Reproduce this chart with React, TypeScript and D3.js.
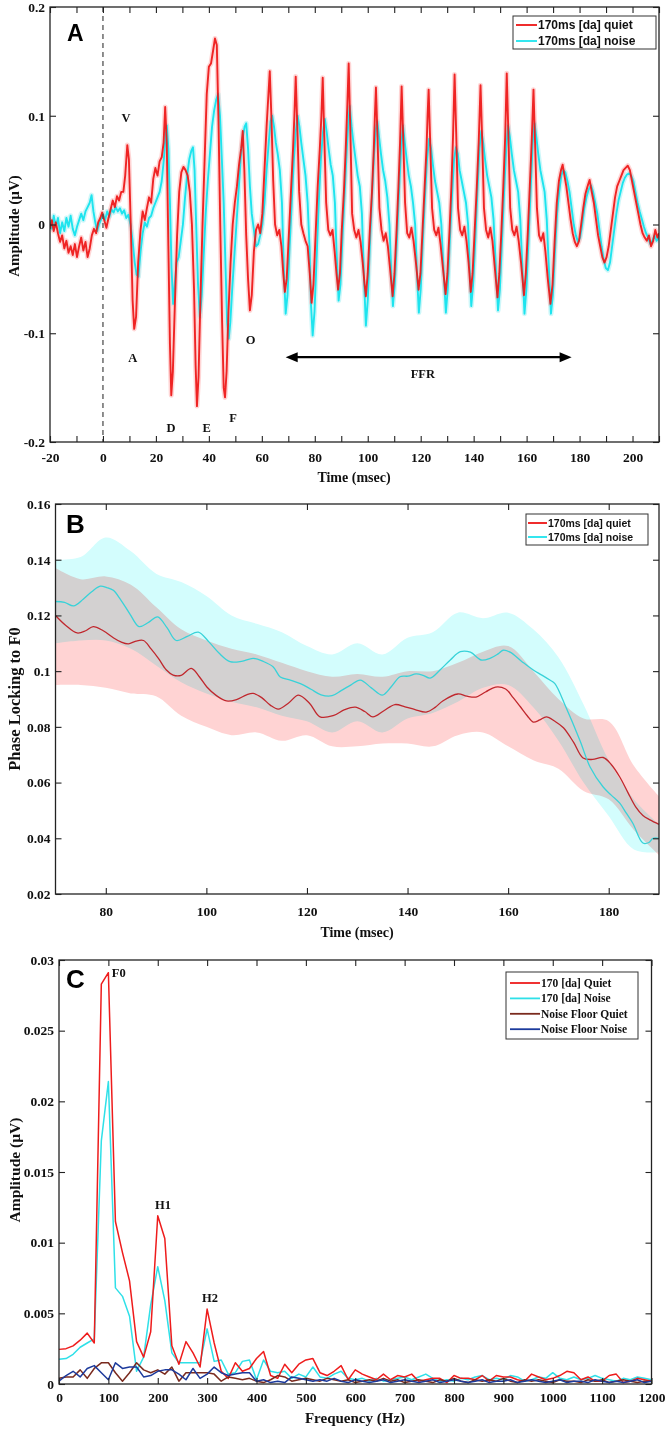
import React, { useEffect, useRef } from 'react';
import * as d3 from 'd3';

type Pt = [number, number];

// ---------- Panel A: grand-average waveforms (ms, µV) ----------
const quietWave: Pt[] = [
  [-20,-0.004],[-19.3,0.004],[-18.6,-0.006],[-17.8,0.002],[-17,-0.008],[-16.2,-0.016],[-15.4,-0.01],[-14.6,-0.022],[-13.8,-0.015],[-13,-0.026],
  [-12.2,-0.02],[-11.4,-0.028],[-10.6,-0.018],[-9.8,-0.03],[-9,-0.02],[-8.2,-0.012],[-7.4,-0.024],[-6.6,-0.016],[-5.8,-0.03],[-5,-0.022],
  [-4.2,-0.01],[-3.4,-0.004],[-2.6,-0.008],[-1.8,0.002],[-1,0.006],[-0.3,0.011],[0.5,0.004],[1.3,-0.003],[2.1,0.006],[2.9,0.014],
  [3.7,0.022],[4.5,0.016],[5.3,0.026],[6.1,0.022],[6.9,0.03],[7.7,0.03],[8.4,0.045],[9.2,0.073],[9.8,0.06],[10.5,0.0],
  [11.2,-0.07],[11.8,-0.096],[12.5,-0.085],[13.3,-0.035],[14.2,-0.005],[15,0.012],[15.8,0.004],[16.6,0.015],[17.4,0.025],[18.2,0.02],
  [19,0.042],[19.8,0.052],[20.6,0.045],[21.4,0.058],[22.2,0.062],[22.9,0.075],[23.5,0.108],[24.1,0.075],[24.7,-0.02],[25.3,-0.11],
  [25.8,-0.157],[26.4,-0.135],[27.2,-0.07],[28,-0.01],[28.8,0.03],[29.6,0.048],[30.4,0.053],[31.2,0.05],[32,0.045],[32.8,0.03],
  [33.6,0.0],[34.4,-0.06],[35,-0.13],[35.5,-0.167],[36.1,-0.14],[36.8,-0.07],[37.6,0.0],[38.4,0.06],[39.2,0.12],[40,0.145],
  [40.8,0.148],[41.6,0.16],[42.3,0.171],[43,0.165],[43.6,0.1],[44.3,0.0],[45,-0.09],[45.6,-0.15],[46.1,-0.159],[46.7,-0.135],
  [47.4,-0.08],[48.2,-0.035],[49,0.0],[49.8,0.02],[50.6,0.035],[51.4,0.055],[52.2,0.07],[52.8,0.086],[53.4,0.05],[54.1,-0.01],
  [54.8,-0.05],[55.5,-0.079],[56.2,-0.065],[57,-0.025],[57.8,-0.005],[58.6,0.0],[59.4,-0.008],[60.2,0.01],[61,0.05],[61.8,0.09],
  [62.5,0.12],[63,0.141],[63.6,0.1],[64.3,0.04],[65,0.0],[65.8,-0.01],[66.6,-0.005],[67.4,-0.02],[68.1,-0.045],[68.7,-0.062],
  [69.4,-0.05],[70.2,-0.01],[71,0.03],[71.8,0.07],[72.3,0.1],[72.8,0.136],[73.4,0.09],[74.1,0.03],[74.9,0.0],[75.7,-0.008],
  [76.5,-0.015],[77.3,-0.02],[78.1,-0.045],[78.8,-0.072],[79.5,-0.055],[80.3,-0.01],[81.1,0.035],[81.9,0.07],[82.5,0.1],[83,0.135],
  [83.6,0.08],[84.3,0.02],[85.1,-0.005],[85.9,-0.01],[86.7,-0.005],[87.5,-0.025],[88.2,-0.045],[88.8,-0.06],[89.5,-0.045],[90.2,-0.005],
  [91,0.03],[91.7,0.07],[92.3,0.11],[92.8,0.148],[93.4,0.09],[94.1,0.01],[94.9,-0.005],[95.7,-0.012],[96.5,-0.005],[97.3,-0.016],
  [98.1,-0.035],[98.8,-0.055],[99.3,-0.066],[100,-0.045],[100.8,-0.005],[101.6,0.03],[102.3,0.07],[102.7,0.1],[103.1,0.126],[103.7,0.08],
  [104.4,0.015],[105.2,-0.005],[106,-0.015],[106.8,-0.008],[107.6,-0.02],[108.4,-0.04],[109.4,-0.066],[110.1,-0.045],[110.9,-0.005],[111.6,0.035],
  [112.2,0.075],[112.8,0.127],[113.4,0.08],[114.1,0.02],[114.9,-0.008],[115.7,-0.012],[116.5,-0.003],[117.3,-0.015],[118.2,-0.035],[119.2,-0.06],
  [119.9,-0.045],[120.7,-0.005],[121.5,0.035],[122.2,0.07],[122.6,0.1],[123,0.124],[123.6,0.075],[124.3,0.015],[125.1,-0.005],[125.9,-0.01],
  [126.7,-0.003],[127.5,-0.018],[128.4,-0.04],[129.4,-0.064],[130.1,-0.045],[130.9,-0.005],[131.6,0.035],[132.2,0.08],[132.8,0.138],[133.4,0.085],
  [134.1,0.015],[134.9,-0.005],[135.7,-0.01],[136.5,-0.002],[137.3,-0.015],[138.1,-0.035],[138.9,-0.062],[139.6,-0.045],[140.4,-0.005],[141.2,0.035],
  [141.9,0.075],[142.6,0.128],[143.2,0.08],[143.9,0.015],[144.7,-0.005],[145.5,-0.012],[146.3,-0.003],[147.1,-0.015],[148,-0.04],[149,-0.067],
  [149.7,-0.045],[150.5,-0.005],[151.2,0.035],[151.9,0.08],[152.5,0.139],[153.1,0.085],[153.8,0.015],[154.6,-0.005],[155.4,-0.01],[156.2,-0.002],
  [157,-0.015],[157.9,-0.035],[159,-0.065],[159.7,-0.045],[160.5,-0.005],[161.2,0.035],[161.9,0.075],[162.6,0.124],[163.2,0.075],[163.9,0.015],
  [164.7,-0.01],[165.5,-0.015],[166.3,-0.008],[167.1,-0.025],[168,-0.05],[169,-0.073],[169.8,-0.055],[170.6,-0.015],[171.4,0.02],[172.2,0.04],
  [173,0.05],[173.6,0.055],[174.3,0.045],[175,0.035],[175.8,0.02],[176.6,0.005],[177.4,-0.008],[178.2,-0.016],[179,-0.02],[179.8,-0.015],
  [180.6,0.0],[181.4,0.015],[182.2,0.028],[183,0.035],[183.8,0.041],[184.6,0.03],[185.4,0.02],[186.2,0.005],[187,-0.01],[187.8,-0.02],
  [188.6,-0.03],[189.4,-0.035],[190.2,-0.03],[191,-0.02],[191.8,-0.005],[192.6,0.01],[193.4,0.025],[194.2,0.035],[195,0.04],[195.8,0.045],
  [196.6,0.05],[197.4,0.052],[198.2,0.054],[199,0.05],[199.8,0.04],[200.6,0.03],[201.4,0.02],[202.2,0.01],[203,0.0],[203.8,-0.008],
  [204.6,-0.012],[205.4,-0.015],[206.2,-0.01],[207,-0.02],[207.8,-0.015],[208.6,-0.005],[209.4,-0.012],[210,-0.008],
];

const noiseWave: Pt[] = [
  [-20,0.004],[-19.3,-0.004],[-18.6,0.008],[-17.8,-0.002],[-17,0.006],[-16.2,-0.008],[-15.4,0.002],[-14.6,-0.006],[-13.8,0.006],[-13,-0.002],
  [-12.2,0.008],[-11.4,-0.004],[-10.6,-0.01],[-9.8,-0.002],[-9,0.004],[-8.2,0.01],[-7.4,0.004],[-6.6,0.012],[-5.8,0.016],[-5,0.02],
  [-4.3,0.027],[-3.6,0.012],[-2.9,0.002],[-2.2,-0.006],[-1.5,0.0],[-0.8,0.004],[0,0.01],[0.8,0.004],[1.6,0.012],[2.4,0.007],
  [3.2,0.014],[4,0.011],[4.8,0.016],[5.6,0.012],[6.4,0.015],[7.2,0.01],[8,0.013],[8.8,0.006],[9.6,0.009],[10.4,0.0],
  [11.2,-0.015],[12,-0.035],[12.7,-0.046],[13.4,-0.048],[14.2,-0.025],[15,-0.008],[15.8,0.002],[16.6,-0.002],[17.4,0.006],[18.2,0.008],
  [19,0.015],[19.8,0.02],[20.6,0.025],[21.4,0.03],[22.2,0.04],[23,0.06],[23.6,0.08],[24.1,0.091],[24.7,0.07],[25.3,0.02],
  [25.9,-0.04],[26.5,-0.073],[27.1,-0.055],[27.8,-0.035],[28.6,-0.03],[29.4,-0.015],[30.2,0.0],[31,0.025],[31.8,0.045],[32.6,0.06],
  [33.4,0.068],[34,0.071],[34.6,0.05],[35.2,0.0],[35.9,-0.055],[36.6,-0.085],[37.3,-0.065],[38,-0.03],[38.8,0.01],[39.6,0.04],
  [40.4,0.065],[41.2,0.09],[42,0.105],[42.8,0.115],[43.5,0.12],[44.2,0.1],[44.9,0.06],[45.6,0.02],[46.3,-0.04],[46.9,-0.09],
  [47.5,-0.105],[48.1,-0.09],[48.8,-0.06],[49.6,-0.03],[50.4,0.0],[51.2,0.03],[52,0.06],[52.8,0.08],[53.5,0.09],[54.1,0.093],
  [54.8,0.07],[55.5,0.035],[56.2,0.01],[57,-0.005],[57.8,-0.02],[58.6,-0.018],[59.4,-0.01],[60.2,0.0],[61,0.02],[61.8,0.05],
  [62.6,0.075],[63.3,0.095],[63.9,0.1],[64.6,0.09],[65.3,0.075],[66,0.065],[66.8,0.05],[67.6,0.02],[68.3,-0.04],[69,-0.082],
  [69.7,-0.065],[70.5,-0.02],[71.3,0.02],[72.1,0.06],[72.8,0.085],[73.5,0.1],[74.2,0.09],[74.9,0.075],[75.7,0.06],[76.5,0.045],
  [77.3,0.02],[78,-0.02],[78.6,-0.075],[79.2,-0.102],[79.9,-0.08],[80.7,-0.03],[81.5,0.02],[82.3,0.06],[83.1,0.085],[83.8,0.097],
  [84.5,0.085],[85.2,0.07],[86,0.055],[86.8,0.045],[87.6,0.02],[88.3,-0.03],[89,-0.07],[89.7,-0.055],[90.5,-0.01],[91.3,0.03],
  [92.1,0.07],[92.7,0.095],[93.2,0.109],[93.9,0.09],[94.6,0.075],[95.4,0.06],[96.2,0.045],[97,0.035],[97.8,0.01],[98.6,-0.05],
  [99.3,-0.093],[100,-0.07],[100.8,-0.02],[101.6,0.025],[102.4,0.065],[103.1,0.088],[103.6,0.095],[104.3,0.08],[105,0.065],[105.8,0.05],
  [106.6,0.04],[107.4,0.025],[108.2,0.0],[108.9,-0.045],[109.5,-0.075],[110.2,-0.055],[111,-0.015],[111.8,0.03],[112.6,0.07],[113.3,0.091],
  [114,0.075],[114.7,0.06],[115.5,0.045],[116.3,0.035],[117.1,0.02],[117.9,0.0],[118.6,-0.045],[119.3,-0.081],[120,-0.06],[120.8,-0.015],
  [121.6,0.025],[122.4,0.06],[123.2,0.079],[123.9,0.07],[124.6,0.055],[125.4,0.04],[126.2,0.03],[127,0.02],[127.8,0.0],[128.7,-0.045],
  [129.5,-0.081],[130.2,-0.06],[131,-0.015],[131.8,0.025],[132.6,0.06],[133.3,0.071],[134,0.065],[134.7,0.05],[135.5,0.04],[136.3,0.03],
  [137.1,0.02],[137.9,0.0],[138.5,-0.04],[139.1,-0.075],[139.8,-0.055],[140.6,-0.015],[141.4,0.03],[142.2,0.07],[142.9,0.086],[143.6,0.075],
  [144.3,0.06],[145.1,0.045],[145.9,0.035],[146.7,0.025],[147.5,0.005],[148.4,-0.04],[149.2,-0.079],[149.9,-0.06],[150.7,-0.015],[151.5,0.03],
  [152.3,0.07],[153,0.091],[153.7,0.08],[154.4,0.065],[155.2,0.05],[156,0.04],[156.8,0.03],[157.6,0.005],[158.5,-0.045],[159.2,-0.082],
  [159.9,-0.06],[160.7,-0.015],[161.5,0.03],[162.3,0.075],[163,0.093],[163.7,0.08],[164.4,0.065],[165.2,0.05],[166,0.04],[166.8,0.03],
  [167.6,0.005],[168.5,-0.045],[169.2,-0.082],[169.9,-0.065],[170.7,-0.025],[171.5,0.01],[172.3,0.03],[173.1,0.045],[173.9,0.05],[174.6,0.048],
  [175.4,0.04],[176.2,0.03],[177,0.015],[177.8,0.0],[178.6,-0.01],[179.4,-0.016],[180.2,-0.012],[181,0.0],[181.8,0.015],[182.6,0.025],
  [183.4,0.032],[184.3,0.036],[185.1,0.03],[185.9,0.02],[186.7,0.01],[187.5,-0.005],[188.3,-0.02],[189.1,-0.032],[189.9,-0.04],[190.7,-0.042],
  [191.5,-0.035],[192.3,-0.02],[193.1,-0.005],[193.9,0.01],[194.7,0.022],[195.5,0.03],[196.3,0.038],[197.1,0.043],[197.9,0.046],[198.7,0.047],
  [199.5,0.045],[200.3,0.04],[201.1,0.03],[201.9,0.02],[202.7,0.012],[203.5,0.005],[204.3,-0.002],[205.1,-0.008],[205.9,-0.012],[206.7,-0.018],
  [207.5,-0.015],[208.3,-0.01],[209.1,-0.015],[210,-0.012],
];

const peakLabels = [
  { text: 'V', t: 8.7, v: 0.094 },
  { text: 'A', t: 11.3, v: -0.126 },
  { text: 'D', t: 25.7, v: -0.191 },
  { text: 'E', t: 39.2, v: -0.191 },
  { text: 'F', t: 49.1, v: -0.182 },
  { text: 'O', t: 55.8, v: -0.1095 },
];
const ffrSpan = { from: 69, to: 177, v: -0.122, labelT: 120.8, labelV: -0.141 };

const timeTicksA = d3.range(-20, 211, 10);
const timeLabelsA = d3.range(-20, 201, 20);
const ampTicksA = [-0.2, -0.1, 0, 0.1, 0.2];

// ---------- Panel B: phase locking to F0 ----------
const plvQuiet: Pt[] = [
  [70,0.12],[72,0.1165],[74.3,0.1137],[76,0.1145],[77.5,0.116],[79.5,0.1145],[81.5,0.112],[83,0.1105],[84.5,0.1098],[86,0.1108],
  [87.5,0.111],[89,0.108],[90.5,0.1045],[92,0.1005],[93.4,0.0986],[95,0.0985],[97,0.101],[98.6,0.098],[100.1,0.0943],[102,0.0912],
  [104,0.0893],[106,0.0898],[108,0.0915],[109.3,0.092],[111,0.0905],[112.7,0.0878],[114.3,0.0864],[116.3,0.0885],[118.3,0.0914],[120.5,0.0885],
  [122.6,0.0836],[125.2,0.084],[127.5,0.0862],[129.6,0.0871],[131.5,0.0855],[133.1,0.0836],[135.3,0.0858],[137.5,0.088],[139.5,0.0872],[141.5,0.0862],
  [143.7,0.0853],[145.5,0.087],[147,0.0893],[150,0.0918],[151.8,0.091],[153.6,0.0907],[155.5,0.0925],[157.5,0.0943],[159.5,0.0936],[161,0.0905],
  [162.4,0.0873],[163.8,0.084],[165,0.0817],[166.3,0.0825],[167.6,0.0836],[169.3,0.082],[171,0.0797],[173,0.0745],[174.9,0.0688],[176.8,0.0683],
  [178.9,0.069],[180.5,0.0665],[182.2,0.062],[183.8,0.0565],[185.4,0.0512],[186.8,0.0482],[188.2,0.0466],[190,0.045],
];
const plvNoise: Pt[] = [
  [70,0.125],[71.8,0.1247],[73.6,0.1234],[75.5,0.1258],[77.2,0.1285],[78.9,0.1305],[80.2,0.13],[81.5,0.129],[83,0.1255],[84.8,0.1205],
  [86.6,0.116],[88.5,0.1175],[90.3,0.1195],[92.2,0.1155],[94,0.111],[96.2,0.1125],[98.4,0.114],[100.5,0.1105],[102.5,0.1065],[104.7,0.1034],
  [107,0.1035],[109.3,0.1046],[111.3,0.1035],[113.3,0.1015],[114.7,0.0979],[116.7,0.0968],[118.7,0.0955],[120.8,0.0935],[122.8,0.0915],[125,0.0912],
  [126.8,0.093],[128.7,0.095],[130.6,0.0968],[132.8,0.094],[135,0.0914],[136.8,0.0945],[138.5,0.098],[140.1,0.0982],[141.7,0.099],[143.1,0.0985],
  [144.5,0.0975],[146.5,0.1005],[148.5,0.104],[150.5,0.107],[152.5,0.1068],[154.6,0.104],[156.4,0.1046],[158,0.1062],[159,0.1075],[160.4,0.1068],
  [162.7,0.1035],[165,0.1004],[166.8,0.0985],[168.3,0.0968],[169.3,0.0955],[171.5,0.087],[174.3,0.075],[176.3,0.0656],[178.9,0.0584],[180.5,0.0555],
  [182.2,0.0526],[183.5,0.049],[184.8,0.0454],[186.8,0.0383],[188,0.0385],[188.8,0.04],[190,0.04],
];
const bandTimes = [70, 75, 80, 85, 90, 95, 100, 105, 110, 115, 120, 125, 130, 135, 140, 145, 150, 155, 160, 165, 170, 175, 180, 185, 190];
const quietLow  = [0.095, 0.095, 0.094, 0.092, 0.091, 0.084, 0.080, 0.077, 0.078, 0.075, 0.077, 0.073, 0.073, 0.074, 0.074, 0.073, 0.077, 0.078, 0.073, 0.068, 0.065, 0.057, 0.054, 0.043, 0.034];
const quietHigh = [0.137, 0.133, 0.134, 0.131, 0.123, 0.115, 0.111, 0.108, 0.106, 0.103, 0.100, 0.098, 0.099, 0.098, 0.100, 0.100, 0.103, 0.107, 0.109, 0.100, 0.090, 0.083, 0.082, 0.066, 0.055];
const noiseLow  = [0.110, 0.111, 0.111, 0.108, 0.102, 0.096, 0.092, 0.089, 0.087, 0.084, 0.082, 0.078, 0.082, 0.078, 0.083, 0.085, 0.089, 0.094, 0.095, 0.087, 0.075, 0.060, 0.048, 0.036, 0.035];
const noiseHigh = [0.140, 0.141, 0.148, 0.143, 0.135, 0.132, 0.127, 0.120, 0.117, 0.114, 0.109, 0.106, 0.110, 0.106, 0.112, 0.114, 0.121, 0.119, 0.121, 0.115, 0.105, 0.088, 0.068, 0.054, 0.045];

const timeTicksB = [80, 100, 120, 140, 160, 180];
const plvTicksB = [0.02, 0.04, 0.06, 0.08, 0.1, 0.12, 0.14, 0.16];

// ---------- Panel C: spectra, one value per FFT bin ----------
const binHz = 100 / 7;
const specQuiet = [
  0.00245, 0.0025, 0.0027, 0.0031, 0.0036, 0.0029, 0.0283, 0.0291, 0.0115, 0.0093,
  0.0073, 0.0030, 0.0019, 0.0037, 0.0119, 0.0103, 0.0027, 0.0014, 0.0030, 0.0022,
  0.0012, 0.0053, 0.0029, 0.0009, 0.0004, 0.0015, 0.0009, 0.0011, 0.0018, 0.0023,
  0.0006, 0.0004, 0.0014, 0.0008, 0.0014, 0.0017, 0.0018, 0.0008, 0.0006, 0.0009,
  0.0013, 0.0003, 0.0010, 0.0007, 0.0005, 0.0003, 0.0007, 0.0003, 0.0006, 0.0005,
  0.0007, 0.0002, 0.0003, 0.0004, 0.0004, 0.0001, 0.0006, 0.0004, 0.0004, 0.0003,
  0.0006, 0.0002, 0.0006, 0.0005, 0.0005, 0.0003, 0.0002, 0.0007, 0.0005, 0.0003,
  0.0004, 0.0006, 0.0009, 0.0008, 0.0003, 0.0005, 0.0002, 0.0002, 0.0006, 0.0007,
  0.0001, 0.0002, 0.0004, 0.0003, 0.0002,
];
const specNoise = [
  0.00175, 0.0018, 0.0021, 0.0026, 0.0029, 0.0032, 0.0172, 0.0214, 0.0068, 0.0062,
  0.0048, 0.0009, 0.0019, 0.0056, 0.0083, 0.0059, 0.0022, 0.0015, 0.0015, 0.0015,
  0.0015, 0.0039, 0.0016, 0.0017, 0.0007, 0.0008, 0.0016, 0.0017, 0.0003, 0.0017,
  0.0009, 0.0008, 0.0009, 0.0004, 0.0007, 0.0005, 0.0012, 0.0005, 0.0004, 0.0007,
  0.0009, 0.0004, 0.0003, 0.0004, 0.0002, 0.0004, 0.0002, 0.0003, 0.0004, 0.0005,
  0.0003, 0.0005, 0.0007, 0.0004, 0.0002, 0.0003, 0.0002, 0.0004, 0.0003, 0.0005,
  0.0006, 0.0003, 0.0004, 0.0003, 0.0006, 0.0005, 0.0002, 0.0003, 0.0005, 0.0004,
  0.0008, 0.0004, 0.0003, 0.0005, 0.0003, 0.0004, 0.0006, 0.0004, 0.0003, 0.0002,
  0.0004, 0.0003, 0.0005, 0.0004, 0.0003,
];
const floorQuiet = [
  0.0004, 0.0005, 0.0005, 0.0010, 0.0004, 0.0011, 0.0015, 0.0015, 0.0008, 0.0002,
  0.0008, 0.0015, 0.0010, 0.0008, 0.0010, 0.0007, 0.0012, 0.0002, 0.0008, 0.0008,
  0.0008, 0.0008, 0.0007, 0.0002, 0.0005, 0.0004, 0.0003, 0.0004, 0.0002, 0.0001,
  0.0003, 0.0006, 0.0005, 0.0002, 0.0003, 0.0004, 0.0003, 0.0002, 0.0004, 0.0003,
  0.0002, 0.0003, 0.0001, 0.0002, 0.0003, 0.0002, 0.0004, 0.0002, 0.0003, 0.0001,
  0.0002, 0.0003, 0.0002, 0.0001, 0.0003, 0.0002, 0.0004, 0.0002, 0.0001, 0.0003,
  0.0002, 0.0003, 0.0002, 0.0004, 0.0002, 0.0001, 0.0003, 0.0002, 0.0003, 0.0002,
  0.0001, 0.0003, 0.0002, 0.0002, 0.0001, 0.0003, 0.0002, 0.0003, 0.0001, 0.0002,
  0.0003, 0.0002, 0.0001, 0.0002, 0.0002,
];
const floorNoise = [
  0.0002, 0.0006, 0.0009, 0.0005, 0.0011, 0.0013, 0.0008, 0.0003, 0.0015, 0.0011,
  0.0012, 0.0012, 0.0005, 0.0006, 0.0009, 0.0010, 0.0010, 0.0007, 0.0003, 0.0011,
  0.0004, 0.0007, 0.0012, 0.0008, 0.0006, 0.0007, 0.0008, 0.0008, 0.0002, 0.0003,
  0.0001, 0.0002, 0.0001, 0.0005, 0.0004, 0.0003, 0.0002, 0.0003, 0.0002, 0.0004,
  0.0002, 0.0001, 0.0003, 0.0002, 0.0001, 0.0002, 0.0003, 0.0001, 0.0002, 0.0003,
  0.0002, 0.0001, 0.0002, 0.0003, 0.0001, 0.0002, 0.0003, 0.0002, 0.0001, 0.0002,
  0.0003, 0.0001, 0.0002, 0.0002, 0.0003, 0.0001, 0.0002, 0.0003, 0.0002, 0.0001,
  0.0002, 0.0003, 0.0001, 0.0002, 0.0002, 0.0001, 0.0003, 0.0002, 0.0001, 0.0002,
  0.0001, 0.0002, 0.0003, 0.0001, 0.0002,
];
const harmonicLabels = [
  { text: 'F0', f: 107, v: 0.0288, anchor: 'start' },
  { text: 'H1', f: 210.5, v: 0.01238, anchor: 'middle' },
  { text: 'H2', f: 305.7, v: 0.0058, anchor: 'middle' },
];
const freqTicksC = d3.range(0, 1201, 100);
const ampTicksC = [0, 0.005, 0.01, 0.015, 0.02, 0.025, 0.03];

const SERIF = '"Liberation Serif", "Times New Roman", serif';
const SANS = '"Liberation Sans", Arial, sans-serif';
const fmt = (d: number) => String(parseFloat((+d).toFixed(4)));

type Sel = d3.Selection<SVGGElement, unknown, null, undefined>;

function drawFrame(
  g: Sel,
  x: d3.ScaleLinear<number, number>,
  y: d3.ScaleLinear<number, number>,
  xTicks: number[],
  xLabels: number[],
  yTicks: number[],
  xPad: number,
) {
  const [x0, x1] = x.range();
  const [y0, y1] = y.range();
  const styleAxis = (a: Sel) => {
    a.select('.domain').remove();
    a.selectAll('line').attr('stroke', '#222').attr('stroke-width', 1.1);
    a.selectAll('text')
      .attr('fill', '#111')
      .style('font-family', SERIF)
      .style('font-size', '13.5px')
      .style('font-weight', 'bold');
  };
  const labelSet = new Set(xLabels);
  g.append('g').attr('transform', `translate(0,${y0})`)
    .call(d3.axisBottom(x).tickValues(xTicks).tickSizeInner(-6).tickSizeOuter(0).tickPadding(xPad)
      .tickFormat(d => (labelSet.has(+d) ? fmt(+d) : '')))
    .call(styleAxis);
  g.append('g').attr('transform', `translate(0,${y1})`)
    .call(d3.axisTop(x).tickValues(xTicks).tickSizeInner(-6).tickSizeOuter(0).tickFormat(() => ''))
    .call(styleAxis);
  g.append('g').attr('transform', `translate(${x0},0)`)
    .call(d3.axisLeft(y).tickValues(yTicks).tickSizeInner(-6).tickSizeOuter(0).tickPadding(5).tickFormat(d => fmt(+d)))
    .call(styleAxis);
  g.append('g').attr('transform', `translate(${x1},0)`)
    .call(d3.axisRight(y).tickValues(yTicks).tickSizeInner(-6).tickSizeOuter(0).tickFormat(() => ''))
    .call(styleAxis);
  g.append('rect')
    .attr('x', x0).attr('y', y1).attr('width', x1 - x0).attr('height', y0 - y1)
    .attr('fill', 'none').attr('stroke', '#222').attr('stroke-width', 1.3);
}

function axisTitles(
  g: Sel,
  xTitle: string, xPos: [number, number], xSize: number,
  yTitle: string, yPos: [number, number], ySize: number,
) {
  g.append('text').attr('x', xPos[0]).attr('y', xPos[1]).attr('text-anchor', 'middle')
    .style('font-family', SERIF).style('font-size', `${xSize}px`).style('font-weight', 'bold').attr('fill', '#111')
    .text(xTitle);
  g.append('text').attr('transform', `translate(${yPos[0]},${yPos[1]}) rotate(-90)`).attr('text-anchor', 'middle')
    .style('font-family', SERIF).style('font-size', `${ySize}px`).style('font-weight', 'bold').attr('fill', '#111')
    .text(yTitle);
}

function panelLetter(g: Sel, letter: string, px: number, py: number, size: number) {
  g.append('text').attr('x', px).attr('y', py)
    .style('font-family', SANS).style('font-size', `${size}px`).style('font-weight', 'bold').attr('fill', '#000')
    .text(letter);
}

function legend(
  g: Sel,
  box: { x: number; y: number; w: number; h: number },
  items: { label: string; color: string }[],
  opts: { font: string; size: number; rowH: number; firstRow: number; lineLen: number; pad: number },
) {
  const lg = g.append('g');
  lg.append('rect').attr('x', box.x).attr('y', box.y).attr('width', box.w).attr('height', box.h)
    .attr('fill', '#fff').attr('stroke', '#333').attr('stroke-width', 1);
  items.forEach((it, i) => {
    const cy = box.y + opts.firstRow + i * opts.rowH;
    lg.append('line').attr('x1', box.x + opts.pad).attr('x2', box.x + opts.pad + opts.lineLen)
      .attr('y1', cy).attr('y2', cy).attr('stroke', it.color).attr('stroke-width', 1.8);
    lg.append('text').attr('x', box.x + opts.pad + opts.lineLen + 1).attr('y', cy).attr('dy', '0.35em')
      .style('font-family', opts.font).style('font-size', `${opts.size}px`).style('font-weight', 'bold')
      .attr('fill', '#111').text(it.label);
  });
}

export default function App() {
  const ref = useRef<SVGSVGElement>(null);

  useEffect(() => {
    if (!ref.current) return;
    const svg = d3.select(ref.current);
    svg.selectAll('*').remove();
    svg.append('rect').attr('width', 666).attr('height', 1429).attr('fill', '#fff');
    const root = svg.append('g') as unknown as Sel;

    // ---------------- Panel A ----------------
    const xA = d3.scaleLinear().domain([-20, 210]).range([50, 659]);
    const yA = d3.scaleLinear().domain([-0.2, 0.2]).range([442, 7]);
    const gA = root.append('g') as unknown as Sel;
    gA.append('clipPath').attr('id', 'clipA').append('rect')
      .attr('x', 50).attr('y', 7).attr('width', 609).attr('height', 435);
    const lineA = d3.line<Pt>().x(d => xA(d[0])).y(d => yA(d[1]));
    const plotA = gA.append('g').attr('clip-path', 'url(#clipA)');
    // shaded SEM, drawn as a soft halo around each trace
    plotA.append('path').datum(noiseWave).attr('d', lineA).attr('fill', 'none')
      .attr('stroke', '#b8f4f6').attr('stroke-width', 5).attr('stroke-linejoin', 'round').attr('opacity', 0.7);
    plotA.append('path').datum(quietWave).attr('d', lineA).attr('fill', 'none')
      .attr('stroke', '#ffb9b9').attr('stroke-width', 5).attr('stroke-linejoin', 'round').attr('opacity', 0.6);
    plotA.append('path').datum(noiseWave).attr('d', lineA).attr('fill', 'none')
      .attr('stroke', '#1ee4ee').attr('stroke-width', 1.9).attr('stroke-linejoin', 'round');
    plotA.append('path').datum(quietWave).attr('d', lineA).attr('fill', 'none')
      .attr('stroke', '#ee1515').attr('stroke-width', 1.9).attr('stroke-linejoin', 'round').attr('opacity', 0.92);
    // stimulus onset
    gA.append('line').attr('x1', xA(0)).attr('x2', xA(0)).attr('y1', yA(0.2)).attr('y2', yA(-0.2))
      .attr('stroke', '#444').attr('stroke-width', 1.2).attr('stroke-dasharray', '5,4');
    // peak labels
    gA.selectAll('text.pk').data(peakLabels).join('text').attr('class', 'pk')
      .attr('x', d => xA(d.t)).attr('y', d => yA(d.v)).attr('text-anchor', 'middle')
      .style('font-family', SERIF).style('font-size', '12.5px').style('font-weight', 'bold').attr('fill', '#111')
      .text(d => d.text);
    // FFR double arrow
    const ay = yA(ffrSpan.v);
    const ax0 = xA(ffrSpan.from);
    const ax1 = xA(ffrSpan.to);
    gA.append('line').attr('x1', ax0 + 8).attr('x2', ax1 - 8).attr('y1', ay).attr('y2', ay)
      .attr('stroke', '#000').attr('stroke-width', 2.2);
    gA.append('path').attr('d', `M${ax0},${ay} L${ax0 + 12},${ay - 5} L${ax0 + 12},${ay + 5} Z`).attr('fill', '#000');
    gA.append('path').attr('d', `M${ax1},${ay} L${ax1 - 12},${ay - 5} L${ax1 - 12},${ay + 5} Z`).attr('fill', '#000');
    gA.append('text').attr('x', xA(ffrSpan.labelT)).attr('y', yA(ffrSpan.labelV)).attr('text-anchor', 'middle')
      .style('font-family', SERIF).style('font-size', '12.5px').style('font-weight', 'bold').attr('fill', '#111')
      .text('FFR');
    drawFrame(gA, xA, yA, timeTicksA, timeLabelsA, ampTicksA, 10);
    axisTitles(gA, 'Time (msec)', [354, 482], 14, 'Amplitude (\u00b5V)', [19, 226], 15);
    panelLetter(gA, 'A', 67, 41, 23);
    legend(gA, { x: 513, y: 16, w: 143, h: 33 },
      [{ label: '170ms [da] quiet', color: '#ee1515' }, { label: '170ms [da] noise', color: '#1ee4ee' }],
      { font: SANS, size: 12, rowH: 16, firstRow: 9, lineLen: 21, pad: 3 });

    // ---------------- Panel B ----------------
    const xB = d3.scaleLinear().domain([70, 190]).range([55.5, 659]);
    const yB = d3.scaleLinear().domain([0.02, 0.16]).range([894, 504]);
    const gB = root.append('g') as unknown as Sel;
    const bandIdx = d3.range(bandTimes.length);
    const area = (lo: number[], hi: number[]) => d3.area<number>()
      .x(i => xB(bandTimes[i])).y0(i => yB(lo[i])).y1(i => yB(hi[i])).curve(d3.curveCatmullRom)(bandIdx);
    gB.append('path').attr('d', area(quietLow, quietHigh)).attr('fill', '#ffd3d3').style('mix-blend-mode', 'multiply');
    gB.append('path').attr('d', area(noiseLow, noiseHigh)).attr('fill', '#d3fdfd').style('mix-blend-mode', 'multiply');
    const lineB = d3.line<Pt>().x(d => xB(d[0])).y(d => yB(d[1])).curve(d3.curveCatmullRom);
    gB.append('path').datum(plvQuiet).attr('d', lineB).attr('fill', 'none').attr('stroke', '#c0272d').attr('stroke-width', 1.3);
    gB.append('path').datum(plvNoise).attr('d', lineB).attr('fill', 'none').attr('stroke', '#38d2d8').attr('stroke-width', 1.3);
    drawFrame(gB, xB, yB, timeTicksB, timeTicksB, plvTicksB, 12);
    axisTitles(gB, 'Time (msec)', [357, 937], 14, 'Phase Locking to F0', [20, 699], 16.5);
    panelLetter(gB, 'B', 66, 533, 26);
    legend(gB, { x: 526, y: 514, w: 122, h: 31 },
      [{ label: '170ms [da] quiet', color: '#ee1515' }, { label: '170ms [da] noise', color: '#1ee4ee' }],
      { font: SANS, size: 10.5, rowH: 14, firstRow: 9, lineLen: 19, pad: 2 });

    // ---------------- Panel C ----------------
    const xC = d3.scaleLinear().domain([0, 1200]).range([59, 651.5]);
    const yC = d3.scaleLinear().domain([0, 0.03]).range([1384, 960]);
    const gC = root.append('g') as unknown as Sel;
    const lineC = d3.line<number>().x((_, i) => xC(i * binHz)).y(d => yC(d));
    const specSeries = [
      { data: specNoise, color: '#2fe0e8' },
      { data: specQuiet, color: '#ee1c1c' },
      { data: floorQuiet, color: '#7a2a1e' },
      { data: floorNoise, color: '#1c3a9c' },
    ];
    specSeries.forEach(s => {
      gC.append('path').datum(s.data).attr('d', lineC).attr('fill', 'none')
        .attr('stroke', s.color).attr('stroke-width', 1.5).attr('stroke-linejoin', 'round');
    });
    gC.selectAll('text.hm').data(harmonicLabels).join('text').attr('class', 'hm')
      .attr('x', d => xC(d.f)).attr('y', d => yC(d.v)).attr('text-anchor', d => d.anchor)
      .style('font-family', SERIF).style('font-size', '12.5px').style('font-weight', 'bold').attr('fill', '#111')
      .text(d => d.text);
    drawFrame(gC, xC, yC, freqTicksC, freqTicksC, ampTicksC, 8);
    axisTitles(gC, 'Frequency (Hz)', [355, 1423], 15, 'Amplitude (\u00b5V)', [20, 1170], 15.5);
    panelLetter(gC, 'C', 66, 988, 26);
    legend(gC, { x: 506, y: 972, w: 132, h: 67 },
      [
        { label: '170 [da] Quiet', color: '#ee1c1c' },
        { label: '170 [da] Noise', color: '#2fe0e8' },
        { label: 'Noise Floor Quiet', color: '#7a2a1e' },
        { label: 'Noise Floor Noise', color: '#1c3a9c' },
      ],
      { font: SERIF, size: 11.5, rowH: 15.4, firstRow: 11, lineLen: 30, pad: 4 });
  }, []);

  return (
    <div style={{ position: 'absolute', left: 0, top: 0 }}>
      <svg ref={ref} width={666} height={1429} style={{ display: 'block' }} />
    </div>
  );
}
